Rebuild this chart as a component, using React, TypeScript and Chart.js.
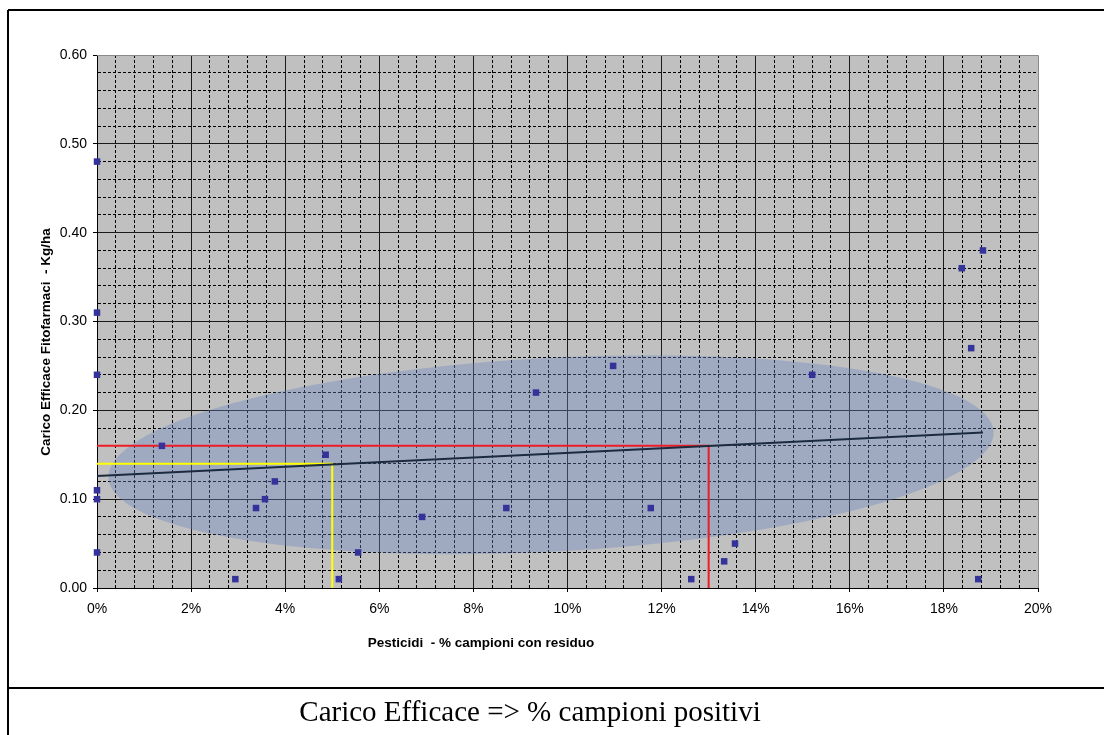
import React, { useEffect, useRef } from 'react';
import { Chart, registerables } from 'chart.js';

Chart.register(...registerables);

// Scatter data: % samples with residue (x) vs effective load kg/ha (y)
const xPct = [0, 0, 0, 0, 0, 0, 1.38, 2.94, 3.38, 3.57, 3.78, 4.86, 5.14, 5.55, 6.91, 8.7, 9.33, 10.97, 11.77, 12.63, 13.33, 13.56, 15.2, 18.38, 18.58, 18.73, 18.83];
const yKg = [0.48, 0.31, 0.24, 0.11, 0.1, 0.04, 0.16, 0.01, 0.09, 0.1, 0.12, 0.15, 0.01, 0.04, 0.08, 0.09, 0.22, 0.25, 0.09, 0.01, 0.03, 0.05, 0.24, 0.36, 0.27, 0.01, 0.38];

// Linear trend line
const trendX = [0, 18.83];
const trendY = [0.126, 0.175];

// Reference lines
const redX = [0, 13, 13];
const redY = [0.16, 0.16, 0];
const yellowX = [0, 5, 5];
const yellowY = [0.14, 0.14, 0];

// Axis ranges / steps
const X_MIN = 0, X_MAX = 20, X_MINOR = 0.4, X_MAJOR = 2;
const Y_MIN = 0, Y_MAX = 0.6, Y_MINOR = 0.02, Y_MAJOR = 0.1;

// Highlight ellipse (data units)
const ELL_CX = 9.65, ELL_CY = 0.15, ELL_RX = 9.42, ELL_RY = 0.109, ELL_ROT = -3.0;

const xTitle = 'Pesticidi  - % campioni con residuo';
const yTitle = 'Carico Efficace Fitofarmaci  - Kg/ha';
const caption = 'Carico Efficace => % campioni positivi';

const toPts = (xs: number[], ys: number[]) => xs.map((x, i) => ({ x, y: ys[i] }));
const isMul = (v: number, step: number) => Math.abs(v / step - Math.round(v / step)) < 1e-6;

const FONT = '"Liberation Sans", Arial, sans-serif';

export default function App() {
  const ref = useRef<HTMLCanvasElement | null>(null);

  useEffect(() => {
    if (!ref.current) return;
    const deco = {
      id: 'deco',
      beforeDraw(chart: any) {
        const { ctx, chartArea: a } = chart;
        ctx.save();
        ctx.fillStyle = '#c0c0c0';
        ctx.fillRect(a.left, a.top, a.right - a.left, a.bottom - a.top);
        ctx.restore();
      },
      beforeDatasetsDraw(chart: any) {
        const { ctx, chartArea: a, scales } = chart;
        const xs = scales.x, ys = scales.y;
        const cx = xs.getPixelForValue(ELL_CX);
        const cy = ys.getPixelForValue(ELL_CY);
        const rx = Math.abs(xs.getPixelForValue(ELL_CX + ELL_RX) - cx);
        const ry = Math.abs(ys.getPixelForValue(ELL_CY + ELL_RY) - cy);
        ctx.save();
        ctx.beginPath();
        ctx.rect(a.left, a.top, a.right - a.left, a.bottom - a.top);
        ctx.clip();
        ctx.beginPath();
        ctx.ellipse(cx, cy, rx, ry, (ELL_ROT * Math.PI) / 180, 0, Math.PI * 2);
        ctx.fillStyle = 'rgba(105,135,195,0.38)';
        ctx.fill();
        ctx.restore();
      },
      afterDraw(chart: any) {
        const { ctx, chartArea: a } = chart;
        ctx.save();
        ctx.strokeStyle = '#8a8a8a';
        ctx.lineWidth = 1;
        ctx.beginPath();
        ctx.moveTo(a.left, a.top + 0.5);
        ctx.lineTo(a.right + 0.5, a.top + 0.5);
        ctx.lineTo(a.right + 0.5, a.bottom);
        ctx.stroke();
        ctx.strokeStyle = '#000';
        ctx.lineWidth = 2;
        ctx.beginPath();
        ctx.moveTo(8, 10);
        ctx.lineTo(1104, 10);
        ctx.moveTo(8, 10);
        ctx.lineTo(8, 735);
        ctx.moveTo(8, 688);
        ctx.lineTo(1104, 688);
        ctx.stroke();
        ctx.fillStyle = '#000';
        ctx.font = `bold 13.5px ${FONT}`;
        ctx.textAlign = 'center';
        ctx.textBaseline = 'middle';
        ctx.fillText(xTitle, 481, 643);
        ctx.save();
        ctx.translate(46, 342);
        ctx.rotate(-Math.PI / 2);
        ctx.fillText(yTitle, 0, 0);
        ctx.restore();
        ctx.font = '29px "Liberation Serif", "Times New Roman", serif';
        ctx.fillText(caption, 530, 713);
        ctx.restore();
      },
    };

    const chart = new Chart(ref.current, {
      type: 'scatter',
      data: {
        datasets: [
          {
            label: 'dati',
            data: toPts(xPct, yKg),
            backgroundColor: '#333399',
            borderColor: '#333399',
            borderWidth: 0,
            pointStyle: 'rect',
            pointRadius: 4.6,
            showLine: false,
            clip: false,
          },
          {
            label: 'tendenza',
            data: toPts(trendX, trendY),
            showLine: true,
            borderColor: '#1c2a3e',
            borderWidth: 2,
            pointRadius: 0,
          },
          {
            label: 'rosso',
            data: toPts(redX, redY),
            showLine: true,
            borderColor: '#ee1c24',
            borderWidth: 2,
            pointRadius: 0,
          },
          {
            label: 'giallo',
            data: toPts(yellowX, yellowY),
            showLine: true,
            borderColor: '#ffff00',
            borderWidth: 2,
            pointRadius: 0,
          },
        ],
      } as any,
      options: {
        animation: false,
        responsive: false,
        devicePixelRatio: 1,
        layout: { padding: { left: 0, top: 55, right: 66, bottom: 117 } },
        plugins: { legend: { display: false }, tooltip: { enabled: false }, title: { display: false } },
        scales: {
          x: {
            type: 'linear',
            min: X_MIN,
            max: X_MAX,
            afterFit: (s: any) => { s.height = 30; },
            ticks: {
              stepSize: X_MINOR,
              autoSkip: false,
              maxRotation: 0,
              padding: 9,
              color: '#000',
              font: { family: FONT, size: 14 },
              callback: (v: any) => (isMul(Number(v), X_MAJOR) ? `${Math.round(Number(v))}%` : ''),
            },
            grid: {
              lineWidth: 1,
              tickLength: 4,
              color: (c: any) => {
                const v = c.tick ? c.tick.value : 0;
                if (v <= X_MIN + 1e-9 || v >= X_MAX - 1e-9) return 'rgba(0,0,0,0)';
                return isMul(v, X_MAJOR) ? '#1a1a1a' : '#000';
              },
              tickColor: (c: any) => (c.tick && isMul(c.tick.value, X_MAJOR) ? '#000' : 'rgba(0,0,0,0)'),
            },
            border: {
              color: '#000',
              width: 1,
              dash: (c: any) => (c.tick && !isMul(c.tick.value, X_MAJOR) ? [3, 2] : []),
            },
          } as any,
          y: {
            type: 'linear',
            min: Y_MIN,
            max: Y_MAX,
            afterFit: (s: any) => { s.width = 97; },
            ticks: {
              stepSize: Y_MINOR,
              autoSkip: false,
              padding: 6,
              color: '#000',
              font: { family: FONT, size: 14 },
              callback: (v: any) => (isMul(Number(v), Y_MAJOR) ? Number(v).toFixed(2) : ''),
            },
            grid: {
              lineWidth: 1,
              tickLength: 4,
              color: (c: any) => {
                const v = c.tick ? c.tick.value : 0;
                if (v <= Y_MIN + 1e-9 || v >= Y_MAX - 1e-9) return 'rgba(0,0,0,0)';
                return isMul(v, Y_MAJOR) ? '#1a1a1a' : '#000';
              },
              tickColor: (c: any) => (c.tick && isMul(c.tick.value, Y_MAJOR) ? '#000' : 'rgba(0,0,0,0)'),
            },
            border: {
              color: '#000',
              width: 1,
              dash: (c: any) => (c.tick && !isMul(c.tick.value, Y_MAJOR) ? [3, 2] : []),
            },
          } as any,
        },
      },
      plugins: [deco],
    } as any);

    return () => chart.destroy();
  }, []);

  return (
    <div style={{ position: 'fixed', left: 0, top: 0, width: 1104, height: 735, background: '#fff' }}>
      <canvas ref={ref} width={1104} height={735} style={{ display: 'block' }} />
    </div>
  );
}
